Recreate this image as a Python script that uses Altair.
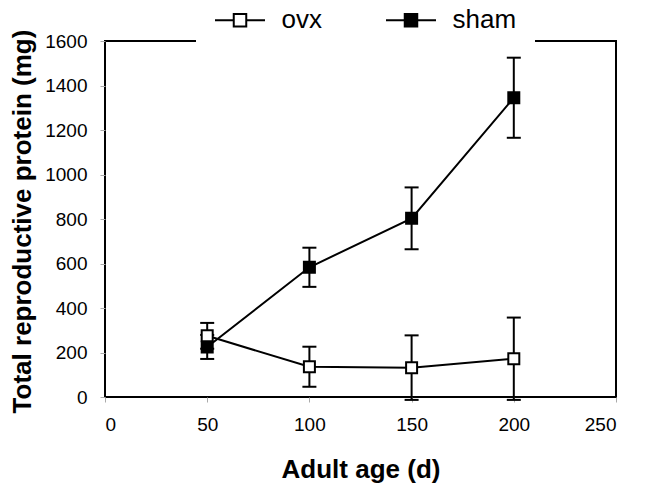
import altair as alt
import pandas as pd

ages = [50, 100, 150, 200]
ovx_mean = [275, 136, 132, 172]
ovx_err = [58, 90, 145, 185]
sham_mean = [225, 583, 803, 1345]
sham_err = [54, 88, 139, 180]

x_ticks = [0, 50, 100, 150, 200, 250]
y_ticks = [0, 200, 400, 600, 800, 1000, 1200, 1400, 1600]

rows = []
for name, means, errs in [("sham", sham_mean, sham_err), ("ovx", ovx_mean, ovx_err)]:
    for a, m, e in zip(ages, means, errs):
        rows.append({"group": name, "age": a, "val": m, "lo": m - e, "hi": m + e})
df = pd.DataFrame(rows)

FONT = "Liberation Sans"
YTITLE = "Total reproductive protein (mg)"
XTITLE = "Adult age (d)"

xscale = alt.Scale(domain=[0, 250], nice=False)
yscale = alt.Scale(domain=[0, 1600], nice=False)

x_enc = alt.X("age:Q", scale=xscale, title=XTITLE,
              axis=alt.Axis(values=x_ticks, grid=False, domain=False, format="d",
                            tickColor="#aaaaaa", tickSize=5, tickWidth=1,
                            labelFontSize=19, labelFont=FONT, labelColor="black", labelPadding=13,
                            titleFontSize=26, titleFont=FONT, titleFontWeight="bold", titleColor="black",
                            titleY=80, titleBaseline="alphabetic"))
y_enc = alt.Y("val:Q", scale=yscale, title=YTITLE,
              axis=alt.Axis(values=y_ticks, grid=False, domain=False, format="d",
                            tickColor="#aaaaaa", tickSize=5, tickWidth=1,
                            labelFontSize=19, labelFont=FONT, labelColor="black", labelPadding=13,
                            titleFontSize=26, titleFont=FONT, titleFontWeight="bold", titleColor="black",
                            titleX=-75, titleY=180, titleBaseline="alphabetic", titleAngle=270))

base = alt.Chart(df)

err_rule = base.mark_rule(color="black", strokeWidth=2).encode(
    x=alt.X("age:Q", scale=xscale, title=XTITLE),
    y=alt.Y("lo:Q", scale=yscale, title=YTITLE), y2="hi:Q"
)
cap_lo = base.mark_tick(color="black", orient="horizontal", size=14, thickness=2, opacity=1).encode(
    x=alt.X("age:Q", scale=xscale, title=XTITLE),
    y=alt.Y("lo:Q", scale=yscale, title=YTITLE)
)
cap_hi = base.mark_tick(color="black", orient="horizontal", size=14, thickness=2, opacity=1).encode(
    x=alt.X("age:Q", scale=xscale, title=XTITLE),
    y=alt.Y("hi:Q", scale=yscale, title=YTITLE)
)

lines = base.mark_line(color="black", strokeWidth=2).encode(
    x=x_enc, y=y_enc, detail="group:N", order="age:Q"
)

sym = "M-2,0H-0.5M0.5,0H2M-0.5,-0.5H0.5V0.5H-0.5Z"

points = base.mark_point(shape="square", filled=True, size=121, stroke="black", strokeWidth=2, opacity=1).encode(
    x=alt.X("age:Q", scale=xscale, title=XTITLE),
    y=alt.Y("val:Q", scale=yscale, title=YTITLE),
    fill=alt.Fill("group:N", title=None,
                  scale=alt.Scale(domain=["ovx", "sham"], range=["white", "black"]),
                  legend=alt.Legend(orient="none", direction="horizontal", legendX=91, legendY=-52.5,
                                    symbolType=sym, symbolSize=625, symbolStrokeColor="black",
                                    symbolStrokeWidth=2, symbolOffset=12.5, labelOffset=28,
                                    labelFontSize=26, labelFont=FONT, labelColor="black",
                                    columnPadding=60, padding=18, fillColor="white"))
)

chart = alt.layer(err_rule, cap_lo, cap_hi, lines, points).properties(
    width=511, height=356,
    autosize=alt.AutoSizeParams(type="none"),
    padding={"left": 97, "top": 33, "right": 24, "bottom": 90},
).configure(background="white").configure_view(stroke="black", strokeWidth=2)

chart.save("out.html", embed_options={"renderer": "svg", "actions": False})
